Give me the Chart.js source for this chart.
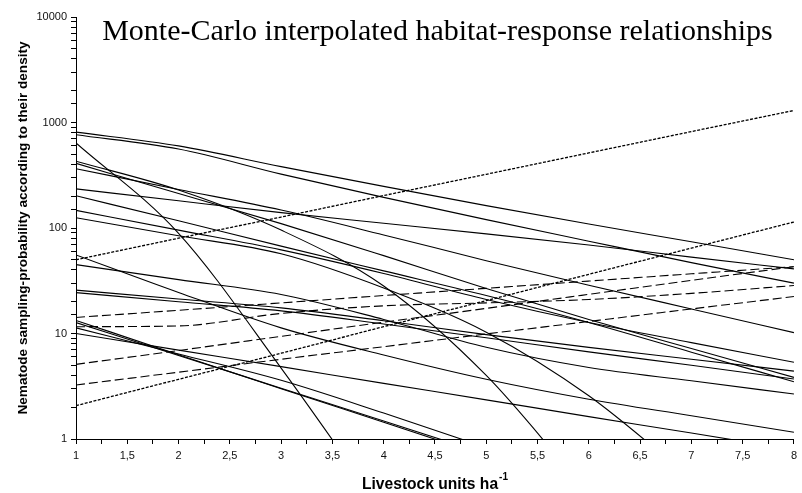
<!DOCTYPE html>
<html>
<head>
<meta charset="utf-8">
<script src="https://cdn.jsdelivr.net/npm/chart.js@4.4.1/dist/chart.umd.min.js"></script>
<style>
  html, body { margin: 0; padding: 0; background: #fff; }
  #chart { display: block; }
</style>
</head>
<body>
<canvas id="chart" width="802" height="493"></canvas>
<script>
const livestock = [1, 2, 3, 4, 5, 6, 7, 8];

// solid curves
const solidA = [810, 600, 382, 248, 163, 109, 74, 50];
const solidB = [765, 560, 324, 195, 120, 75, 47, 30];
const solidC = [640, 89, 4.7, 0.2, null, null, null, null];
const solidD = [430, 229, 95.5, 28.2, 4.0, 0.3, null, null];
const solidE = [410, 212, 110, 54.7, 26.7, 13.6, 7.2, 3.84];
const solidF = [365, 232, 148, 86, 49, 28.7, 17.1, 10.2];
const solidG = [235, 181, 140, 111, 88, 69, 53, 41];
const solidH = [202, 117, 67.3, 39.2, 22.9, 12.7, 6.65, 3.49];
const solidI = [147, 95.5, 62, 37, 21, 12.7, 8.2, 5.33];
const solidJ = [125, 84.5, 57, 27, 10.3, 2.57, 0.42, null];
const solidK = [55.6, 24.5, 11.3, 6.25, 3.68, 2.38, 1.66, 1.16];
const solidL = [45, 32.4, 23.4, 13.6, 7.4, 4.76, 3.56, 2.67];
const solidM = [25.8, 21.2, 17.5, 13.2, 9.75, 7.38, 5.7, 4.4];
const solidN = [24.4, 20, 16.4, 12.3, 9.1, 6.7, 5.0, 3.7];
const solidO = [13.3, 6.3, 3.0, 1.44, 0.69, null, null, null];
const solidP = [12.7, 6.2, 3.03, 1.48, 0.72, null, null, null];
const solidQ = [11.3, 6.4, 3.6, 1.76, 0.83, null, null, null];
const solidR = [10, 6.96, 4.85, 3.37, 2.35, 1.63, 1.14, 0.79];

// dashed curves
const dashedA = [14.2, 16.6, 19.5, 22.9, 26.8, 31.4, 36.8, 43];
const dashedB = [11.6, 11.8, 15.5, 18.3, 19.5, 21, 24, 28.5];
const dashedC = [5.1, 6.9, 9.4, 12.8, 17.3, 23.5, 31.9, 43];
const dashedD = [3.25, 4.3, 5.7, 7.5, 9.9, 13, 17.1, 22.4];

// dotted curves
const dottedA = [50, 80, 127, 203, 323, 515, 820, 1300];
const dottedB = [2.07, 3.68, 6.5, 11.6, 20.5, 36.4, 64.5, 114];

const yTickLabels = [1, 10, 100, 1000, 10000];
const xTitle = "Livestock units ha";
const xTitleSup = "-1";

function toPoints(values) {
  const pts = [];
  values.forEach((v, i) => {
    if (v !== null) pts.push({ x: livestock[i], y: v });
  });
  return pts;
}

function makeSet(values, dash, width) {
  return {
    data: toPoints(values),
    borderColor: "#000",
    borderWidth: width,
    borderDash: dash,
    pointRadius: 0,
    cubicInterpolationMode: "monotone",
    fill: false,
  };
}

const solids = [solidA, solidB, solidC, solidD, solidE, solidF, solidG, solidH, solidI,
  solidJ, solidK, solidL, solidM, solidN, solidO, solidP, solidQ, solidR];
const dashes = [dashedA, dashedB, dashedC, dashedD];
const dots = [dottedA, dottedB];

const datasets = [];
solids.forEach(s => datasets.push(makeSet(s, [], 1.1)));
dashes.forEach(s => datasets.push(makeSet(s, [9, 4], 1.1)));
dots.forEach(s => datasets.push(makeSet(s, [3, 1.5], 1.3)));

const titlesPlugin = {
  id: "titles",
  afterDraw(chart) {
    const ctx = chart.ctx;
    const area = chart.chartArea;
    const cx = (area.left + area.right) / 2;
    ctx.save();
    ctx.fillStyle = "#000";
    ctx.textBaseline = "alphabetic";

    // big title inside the plot
    ctx.font = '30px "Liberation Serif", "Times New Roman", serif';
    ctx.textAlign = "center";
    ctx.fillText("Monte-Carlo interpolated habitat-response relationships", cx + 2.5, 40);

    // x axis title with superscript
    ctx.textAlign = "left";
    ctx.font = 'bold 15.6px "Liberation Sans", Arial, sans-serif';
    const w1 = ctx.measureText(xTitle).width;
    ctx.font = 'bold 10px "Liberation Sans", Arial, sans-serif';
    const w2 = ctx.measureText(xTitleSup).width;
    const start = cx - (w1 + w2 + 1) / 2;
    ctx.font = 'bold 15.6px "Liberation Sans", Arial, sans-serif';
    ctx.fillText(xTitle, start, 489);
    ctx.font = 'bold 10px "Liberation Sans", Arial, sans-serif';
    ctx.fillText(xTitleSup, start + w1 + 1, 480);
    ctx.restore();
  }
};

new Chart(document.getElementById("chart"), {
  type: "line",
  data: { datasets },
  plugins: [titlesPlugin],
  options: {
    responsive: false,
    animation: false,
    devicePixelRatio: 1,
    layout: { padding: { top: 17, right: 5, left: 0, bottom: 0 } },
    plugins: { legend: { display: false }, tooltip: { enabled: false } },
    scales: {
      x: {
        type: "linear",
        min: 1,
        max: 8,
        afterFit: s => { s.height = 54; },
        ticks: {
          stepSize: 0.25,
          autoSkip: false,
          maxRotation: 0,
          padding: 5,
          color: "#111",
          font: { family: '"Liberation Sans", Arial, sans-serif', size: 11 },
          callback: v => (Math.abs(v * 2 - Math.round(v * 2)) < 1e-9 ? String(v).replace(".", ",") : ""),
        },
        grid: { drawOnChartArea: false, drawTicks: true, tickLength: 5, color: "#000" },
        border: { display: true, color: "#000", width: 1 },
      },
      y: {
        type: "logarithmic",
        min: 1,
        max: 10000,
        afterFit: s => { s.width = 76; },
        ticks: {
          autoSkip: false,
          padding: 4,
          color: "#111",
          font: { family: '"Liberation Sans", Arial, sans-serif', size: 11 },
          callback: v => (yTickLabels.includes(v) ? String(v) : ""),
        },
        grid: { drawOnChartArea: false, drawTicks: true, tickLength: 5, color: "#000" },
        border: { display: true, color: "#000", width: 1 },
        title: {
          display: true,
          text: "Nematode sampling-probability according to their density",
          color: "#000",
          font: { family: '"Liberation Sans", Arial, sans-serif', size: 13.6, weight: "bold" },
          padding: { top: 15, bottom: 0 },
        },
      },
    },
  },
});
</script>
</body>
</html>
